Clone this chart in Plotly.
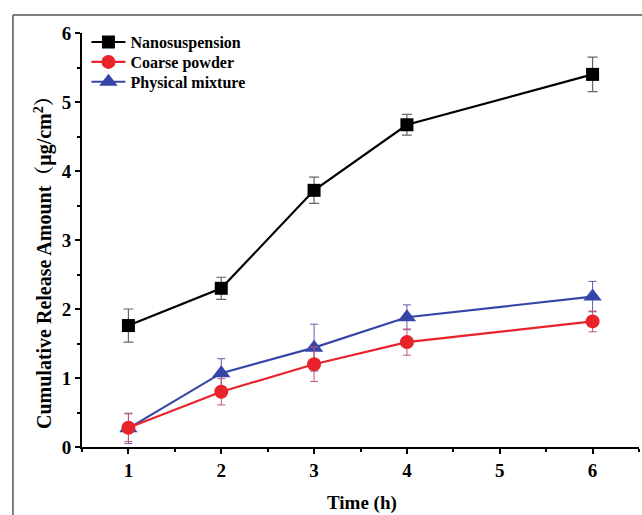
import plotly.graph_objects as go

time_h = [1, 2, 3, 4, 6]
nano = [1.76, 2.30, 3.72, 4.67, 5.40]
nano_err = [0.24, 0.16, 0.19, 0.15, 0.25]
coarse = [0.28, 0.80, 1.20, 1.52, 1.82]
coarse_err = [0.20, 0.19, 0.25, 0.19, 0.15]
physical = [0.27, 1.07, 1.44, 1.88, 2.18]
physical_err = [0.22, 0.21, 0.34, 0.18, 0.22]

x_ticks = [1, 2, 3, 4, 5, 6]
y_ticks = [0, 1, 2, 3, 4, 5, 6]

FONT = "Liberation Serif, Times New Roman, Noto Serif CJK SC, Noto Sans CJK SC, serif"

fig = go.Figure()

fig.add_trace(go.Scatter(
    x=time_h, y=physical, name="Physical mixture", mode="lines+markers",
    line=dict(color="#3546a8", width=2.2),
    marker=dict(symbol="triangle-up", size=16, color="#3546a8"),
    error_y=dict(type="data", array=physical_err, color="#6a5aa8", thickness=1, width=4),
    legend="legend3",
))
fig.add_trace(go.Scatter(
    x=time_h, y=coarse, name="Coarse powder", mode="lines+markers",
    line=dict(color="#e8232b", width=2.2),
    marker=dict(symbol="circle", size=14, color="#e8232b"),
    error_y=dict(type="data", array=coarse_err, color="#c0557a", thickness=1, width=4),
    legend="legend2",
))
fig.add_trace(go.Scatter(
    x=time_h, y=nano, name="Nanosuspension", mode="lines+markers",
    line=dict(color="#000000", width=2.2),
    marker=dict(symbol="square", size=13, color="#000000"),
    error_y=dict(type="data", array=nano_err, color="#666666", thickness=1.2, width=5),
    legend="legend",
))

axis_common = dict(
    showline=True, linecolor="black", linewidth=2,
    ticks="outside", ticklen=5, tickwidth=2, tickcolor="black",
    showgrid=False, zeroline=False, automargin=False,
    tickfont=dict(family=FONT, size=19, color="black", weight="bold"),
    minor=dict(ticks="outside", ticklen=3, tickwidth=2, tickcolor="black", dtick=0.5, showgrid=False),
)

fig.update_xaxes(range=[0.5, 6.5], tickvals=x_ticks, **axis_common)
fig.update_yaxes(range=[0, 6], tickvals=y_ticks, **axis_common)

legend_common = dict(
    x=0.008, xanchor="left", yanchor="middle",
    font=dict(family=FONT, size=16, color="black", weight="bold"),
    bgcolor="rgba(0,0,0,0)", itemwidth=34,
)

fig.update_layout(
    width=642, height=515,
    margin=dict(l=82, r=3, t=33, b=68),
    paper_bgcolor="white", plot_bgcolor="white",
    font=dict(family=FONT, color="black"),
    showlegend=True,
    legend=dict(y=0.978, **legend_common),
    legend2=dict(y=0.930, **legend_common),
    legend3=dict(y=0.882, **legend_common),
    annotations=[
        dict(text="Time (h)", xref="paper", yref="paper", x=0.502, y=-0.135,
             xanchor="center", yanchor="middle", showarrow=False,
             font=dict(family=FONT, size=19, color="black", weight="bold")),
        dict(text="Cumulative Release Amount（μg/cm<sup>2</sup>）", xref="paper", yref="paper",
             x=-0.070, y=0.4565, xanchor="center", yanchor="middle", textangle=-90, showarrow=False,
             font=dict(family=FONT, size=20, color="black", weight="bold")),
    ],
    shapes=[
        dict(type="line", xref="paper", yref="paper", x0=-0.124, x1=1.2, y0=1.0435, y1=1.0435,
             line=dict(color="#555555", width=1.5)),
        dict(type="line", xref="paper", yref="paper", x0=-0.124, x1=-0.124, y0=1.0435, y1=-0.3,
             line=dict(color="#555555", width=1.5)),
    ],
)

fig.write_html("out.html", config={"displayModeBar": False},
               post_script="document.body.style.margin='0';document.body.style.overflow='hidden';")
